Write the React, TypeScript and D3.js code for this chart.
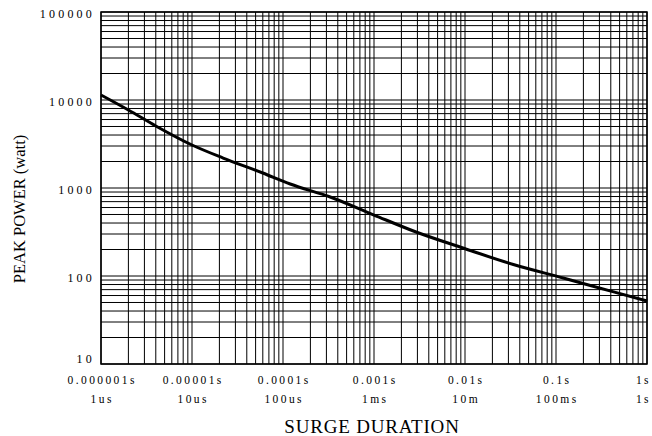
import React from 'react';
import * as d3 from 'd3';

// surge duration (s) vs peak power (W)
const durations = [1e-6, 2e-6, 4e-6, 1e-5, 2.2e-5, 6e-5, 1.2e-4, 3.3e-4, 1e-3, 2.9e-3, 9.5e-3, 3.4e-2, 0.12, 0.43, 1];
const power = [11400, 7700, 5070, 3080, 2190, 1480, 1110, 790, 493, 316, 208, 135, 95, 66, 52];

const xDecades = [1e-6, 1e-5, 1e-4, 1e-3, 1e-2, 1e-1, 1];
const xLabelsTop = ['0.000001s', '0.00001s', '0.0001s', '0.001s', '0.01s', '0.1s', '1s'];
const xLabelsBottom = ['1us', '10us', '100us', '1ms', '10m', '100ms', '1s'];
const yDecades = [1e5, 1e4, 1e3, 100, 10];
const yLabels = ['100000', '10000', '1000', '100', '10'];

const W = 652;
const H = 436;
const margin = { top: 12, right: 5, bottom: 72, left: 101 };

const App = () => {
  const x = d3.scaleLog().domain([1e-6, 1]).range([margin.left, W - margin.right]);
  const y = d3.scaleLog().domain([10, 1e5]).range([H - margin.bottom, margin.top]);

  const line = d3
    .line<number>()
    .x((d, i) => x(durations[i]))
    .y(d => y(d))
    .curve(d3.curveMonotoneX);

  const font = '"Liberation Serif", "Times New Roman", serif';
  const bottom = H - margin.bottom;
  const tickSpacing = 2.4;

  return (
    <svg width={W} height={H} style={{ position: 'absolute', left: 0, top: 0, background: '#fff' }}>
      {/* vertical grid */}
      {x.ticks().map((t, i) => (
        <line key={'vx' + i} x1={x(t)} x2={x(t)} y1={margin.top} y2={bottom} stroke="#000" strokeWidth={1} />
      ))}
      {/* horizontal grid */}
      {y.ticks().map((t, i) => (
        <line key={'hy' + i} x1={margin.left} x2={W - margin.right} y1={y(t)} y2={y(t)} stroke="#000" strokeWidth={1} />
      ))}
      <rect
        x={margin.left}
        y={margin.top}
        width={W - margin.right - margin.left}
        height={bottom - margin.top}
        fill="none"
        stroke="#000"
        strokeWidth={1.5}
      />
      <path d={line(power) || ''} fill="none" stroke="#000" strokeWidth={3} />

      {/* y labels */}
      {yDecades.map((v, i) => (
        <text
          key={'yl' + i}
          x={95}
          y={Math.min(y(v) + 6, bottom - 1)}
          textAnchor="end"
          fontFamily={font}
          fontSize={12}
          letterSpacing={3.2}
          fill="#000"
        >
          {yLabels[i]}
        </text>
      ))}

      {/* x labels */}
      {xDecades.map((v, i) => {
        const last = i === xDecades.length - 1;
        const px = last ? W - 1 : x(v) + tickSpacing / 2;
        const anchor = last ? 'end' : 'middle';
        return (
          <g key={'xl' + i} fontFamily={font} fontSize={11.5} letterSpacing={tickSpacing} fill="#000">
            <text x={px} y={384} textAnchor={anchor}>
              {xLabelsTop[i]}
            </text>
            <text x={px} y={403} textAnchor={anchor}>
              {xLabelsBottom[i]}
            </text>
          </g>
        );
      })}

      <text x={372} y={433} textAnchor="middle" fontFamily={font} fontSize={19} letterSpacing={0.8} fill="#000">
        SURGE DURATION
      </text>
      <text
        transform="translate(25,209) rotate(-90)"
        textAnchor="middle"
        fontFamily={font}
        fontSize={16.5}
        fill="#000"
      >
        PEAK POWER (watt)
      </text>
    </svg>
  );
};

export default App;
